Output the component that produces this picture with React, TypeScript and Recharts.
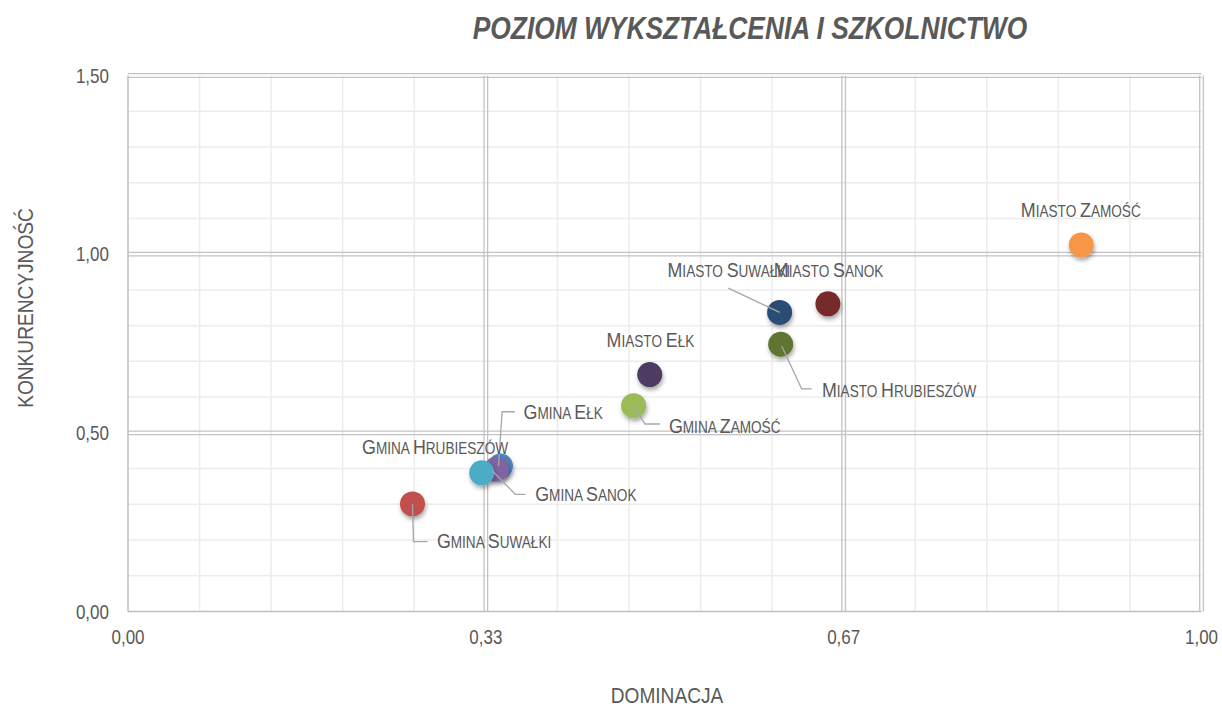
import React from 'react';
import { ScatterChart, Scatter, XAxis, YAxis, ReferenceLine } from 'recharts';

// ---- data ----
const NAMES = [
  'Gmina Ełk',
  'Gmina Suwałki',
  'Gmina Zamość',
  'Gmina Sanok',
  'Gmina Hrubieszów',
  'Miasto Zamość',
  'Miasto Suwałki',
  'Miasto Sanok',
  'Miasto Hrubieszów',
  'Miasto Ełk',
];
const DOMINACJA = [0.347, 0.265, 0.471, 0.343, 0.3295, 0.888, 0.607, 0.652, 0.608, 0.486];
const KONKURENCYJNOSC = [0.407, 0.301, 0.576, 0.398, 0.388, 1.026, 0.837, 0.861, 0.748, 0.663];
const X_TICKS = [0, 1 / 3, 2 / 3, 1];
const Y_TICKS = [0, 0.5, 1, 1.5];
const TITLE = 'POZIOM WYKSZTAŁCENIA I SZKOLNICTWO';
const X_TITLE = 'DOMINACJA';
const Y_TITLE = 'KONKURENCYJNOŚĆ';

// ---- styles ----
const COLORS = ['#4F81BD', '#C0504D', '#9BBB59', '#8064A2', '#4BACC6', '#F79646', '#2C4D75', '#772C2A', '#5F7530', '#4D3B62'];
const FONT = "'Liberation Sans', Arial, sans-serif";
const NARROW = 0.85;
const TEXT = '#595959';
const LEADER = '#a6a6a6';

type Layout = { anchor: 'start' | 'middle' | 'end'; dx: number; dy: number; leader?: number[][] };
const LABEL_LAYOUT: Layout[] = [
  { anchor: 'start', dx: 23, dy: -47, leader: [[-2, 0], [1.6, -54.3], [14.3, -54.3]] },
  { anchor: 'start', dx: 24.4, dy: 44.3, leader: [[0, 0], [1, 37.7], [15, 37.7]] },
  { anchor: 'start', dx: 35.3, dy: 27, leader: [[0, 0], [11.3, 18.3], [26.3, 18.3]] },
  { anchor: 'start', dx: 39, dy: 31.4, leader: [[-4, 1.4], [19, 25], [29.3, 25]] },
  { anchor: 'end', dx: 26.3, dy: -18.7 },
  { anchor: 'middle', dx: -0.5, dy: -28.3 },
  { anchor: 'middle', dx: -50.8, dy: -35.6, leader: [[0, 0], [-51.3, -24.3]] },
  { anchor: 'middle', dx: 0.7, dy: -27.3 },
  { anchor: 'start', dx: 41.3, dy: 52.4, leader: [[1, 1.7], [21, 44.7], [31, 44.7]] },
  { anchor: 'middle', dx: 0.7, dy: -28 },
];

const data = NAMES.map((name, i) => ({ name, idx: i, x: DOMINACJA[i], y: KONKURENCYJNOSC[i] }));

const fmt = (v: number) => v.toFixed(2).replace('.', ',');

const minorX: number[] = [];
for (let k = 1; k < 15; k++) if (k % 5 !== 0) minorX.push(k / 15);
const minorY: number[] = [];
for (let k = 1; k < 15; k++) if (k % 5 !== 0) minorY.push(k / 10);
const majorX = [1 / 3, 2 / 3, 1];
const majorY = [0.5, 1, 1.5];

const NarrowText = (props: any) => {
  const { x, y, anchor, size, dy, rotate, children, ...rest } = props;
  const t = `translate(${x},${y})${rotate ? ` rotate(${rotate})` : ''} scale(${NARROW},1)`;
  return (
    <text transform={t} textAnchor={anchor} dy={dy} fontSize={size} fontFamily={FONT} fill={TEXT} {...rest}>
      {children}
    </text>
  );
};

const XTick = (p: any) => (
  <NarrowText x={p.x} y={p.y} anchor="middle" dy="0.71em" size={20}>
    {fmt(p.payload.value)}
  </NarrowText>
);
const YTick = (p: any) => (
  <NarrowText x={p.x} y={p.y} anchor="end" dy="0.355em" size={20}>
    {fmt(p.payload.value)}
  </NarrowText>
);

const DoubleLine = (props: any) => {
  const { x1, y1, x2, y2 } = props;
  const vertical = Math.abs(x1 - x2) < 0.01;
  const o = 1.8;
  const common = { stroke: '#c3c3c3', strokeWidth: 1.3 };
  if (vertical) {
    return (
      <g>
        <line x1={x1 - o} x2={x2 - o} y1={y1} y2={y2} {...common} />
        <line x1={x1 + o} x2={x2 + o} y1={y1} y2={y2} {...common} />
      </g>
    );
  }
  return (
    <g>
      <line x1={x1} x2={x2} y1={y1 - o} y2={y2 - o} {...common} />
      <line x1={x1} x2={x2} y1={y1 + o} y2={y2 + o} {...common} />
    </g>
  );
};

const Dot = (props: any) => {
  const { cx, cy, payload } = props;
  if (cx == null || cy == null) return null;
  return <circle cx={cx} cy={cy} r={12.5} fill={COLORS[payload.idx]} filter="url(#dotShadow)" />;
};

const SmallCaps = (text: string) => {
  const parts: any[] = [];
  const words = text.split(' ');
  words.forEach((w, wi) => {
    const rest = w.slice(1).toUpperCase() + (wi < words.length - 1 ? ' ' : '');
    parts.push(
      <tspan key={'b' + wi} fontSize={21}>
        {w[0].toUpperCase()}
      </tspan>
    );
    parts.push(
      <tspan key={'r' + wi} fontSize={16}>
        {rest}
      </tspan>
    );
  });
  return parts;
};

const Label = (props: any) => {
  const { cx, cy, payload } = props;
  if (cx == null || cy == null) return null;
  const l = LABEL_LAYOUT[payload.idx];
  return (
    <g>
      {l.leader && (
        <polyline
          points={l.leader.map(([a, b]) => `${cx + a},${cy + b}`).join(' ')}
          fill="none"
          stroke={LEADER}
          strokeWidth={1.3}
        />
      )}
      <NarrowText x={cx + l.dx} y={cy + l.dy} anchor={l.anchor}>
        {SmallCaps(payload.name)}
      </NarrowText>
    </g>
  );
};

export default function App() {
  return (
    <div style={{ position: 'absolute', left: 0, top: 0, width: 1222, height: 707, background: '#fff' }}>
      <ScatterChart width={1222} height={707} margin={{ top: 75.5, right: 20.5, bottom: 55.5, left: 0 }}>
        {minorX.map((v) => (
          <ReferenceLine key={'mx' + v} x={v} stroke="#ececec" strokeWidth={1.5} />
        ))}
        {minorY.map((v) => (
          <ReferenceLine key={'my' + v} y={v} stroke="#ececec" strokeWidth={1.5} />
        ))}
        {majorX.map((v) => (
          <ReferenceLine key={'Mx' + v} x={v} shape={DoubleLine} />
        ))}
        {majorY.map((v) => (
          <ReferenceLine key={'My' + v} y={v} shape={DoubleLine} />
        ))}
        <XAxis
          type="number"
          dataKey="x"
          domain={[0, 1]}
          ticks={X_TICKS}
          interval={0}
          tickFormatter={fmt}
          tickLine={false}
          axisLine={{ stroke: '#bfbfbf', strokeWidth: 1.5 }}
          tick={XTick}
          tickMargin={12}
          height={40}
          allowDataOverflow
        />
        <YAxis
          type="number"
          dataKey="y"
          domain={[0, 1.5]}
          ticks={Y_TICKS}
          interval={0}
          tickFormatter={fmt}
          tickLine={false}
          axisLine={{ stroke: '#bfbfbf', strokeWidth: 1.5 }}
          tick={YTick}
          tickMargin={13}
          width={128}
          allowDataOverflow
        />
        <Scatter data={data} shape={Dot} isAnimationActive={false} />
        <Scatter data={data} shape={Label} isAnimationActive={false} />
      </ScatterChart>
      <svg
        width={1222}
        height={707}
        style={{ position: 'absolute', left: 0, top: 0, pointerEvents: 'none' }}
      >
        <defs>
          <filter id="dotShadow" x="-60%" y="-60%" width="220%" height="220%">
            <feDropShadow dx="1" dy="3" stdDeviation="2" floodColor="#000" floodOpacity="0.35" />
          </filter>
        </defs>
        <NarrowText x={750} y={39} anchor="middle" size={31} fontWeight="bold" fontStyle="italic">
          {TITLE}
        </NarrowText>
        <NarrowText x={33} y={308} rotate={-90} anchor="middle" size={22.5}>
          {Y_TITLE}
        </NarrowText>
        <NarrowText x={667} y={703} anchor="middle" size={22.5}>
          {X_TITLE}
        </NarrowText>
      </svg>
    </div>
  );
}
